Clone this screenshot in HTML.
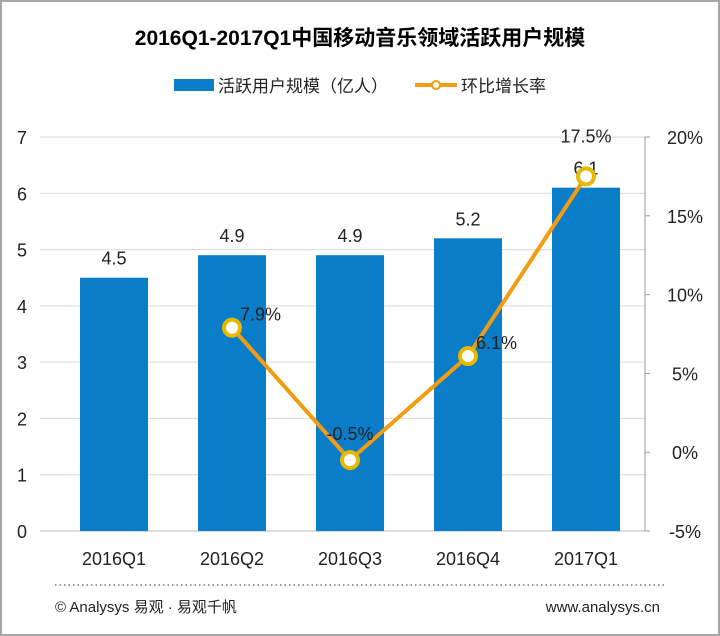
<!DOCTYPE html>
<html><head><meta charset="utf-8"><style>
body{margin:0;background:#fff;}
#wrap{position:relative;width:716px;height:632px;border:2px solid #a6a6a6;overflow:hidden;font-family:"Liberation Sans","Noto Sans CJK SC",sans-serif;}
svg text{font-family:"Liberation Sans","Noto Sans CJK SC",sans-serif;}
</style></head><body>
<div id="wrap">
<svg id="chart" width="716" height="632" viewBox="2 2 716 632">
<text x="360" y="45" text-anchor="middle" font-size="21" font-weight="bold" fill="#000">2016Q1-2017Q1中国移动音乐领域活跃用户规模</text>
<g>
<rect x="174" y="79" width="40" height="12" fill="#0a7dc9"/>
<text x="218" y="92" font-size="17" fill="#222">活跃用户规模（亿人）</text>
<line x1="415" y1="85" x2="457" y2="85" stroke="#f39c12" stroke-width="4"/>
<circle cx="436" cy="85" r="4" fill="#fff" stroke="#f39c12" stroke-width="2"/>
<text x="461" y="92" font-size="17" fill="#222">环比增长率</text>
</g>
<g id="grid"></g><g id="bars"></g><g id="line"></g><g id="axes"></g>
<line x1="55" y1="585" x2="665" y2="585" stroke="#777" stroke-width="1.5" stroke-dasharray="1.5,3"/>
<text x="55" y="612" font-size="15" fill="#222">© Analysys 易观 · 易观千帆</text>
<text x="660" y="612" font-size="15" fill="#222" text-anchor="end">www.analysys.cn</text>
</svg>
</div>
<script>
const categories=["2016Q1","2016Q2","2016Q3","2016Q4","2017Q1"];
const users=[4.5,4.9,4.9,5.2,6.1];
const growth=[null,7.9,-0.5,6.1,17.5];
const leftTicks=[0,1,2,3,4,5,6,7];
const rightTicks=[-5,0,5,10,15,20];
const NS="http://www.w3.org/2000/svg";
const X0=55,X1=645,Y0=531,Y1=137;
const yL=v=>Y0-(v-0)/(7-0)*(Y0-Y1);
const yR=v=>Y0-(v+5)/25*(Y0-Y1);
const band=(X1-X0)/categories.length;
const xC=i=>X0+band*(i+0.5);
function mk(tag,attrs,parent,txt){const e=document.createElementNS(NS,tag);for(const k in attrs)e.setAttribute(k,attrs[k]);if(txt!=null)e.textContent=txt;document.getElementById(parent).appendChild(e);return e;}
leftTicks.forEach(t=>{
 const g=mk('line',{x1:40,x2:X1,y1:yL(t),y2:yL(t),stroke:t===0?'#bbb':'#d9d9d9','stroke-width':1},'grid');
 
 
 const l=mk('text',{x:22,y:yL(t)+7,'font-size':18,'text-anchor':'middle',fill:'#222'},'axes',String(t));
 
 
});
const ax=mk('line',{x1:X1,x2:X1,y1:Y1,y2:Y0,stroke:'#999','stroke-width':1},'axes');


rightTicks.forEach(t=>{
 const tk=mk('line',{x1:X1,x2:X1+5,y1:yR(t),y2:yR(t),stroke:'#999'},'axes');
 
 
 const l=mk('text',{x:X1+40,y:yR(t)+7,'font-size':18,'text-anchor':'middle',fill:'#222'},'axes',t+'%');
 
 
});
categories.forEach((c,i)=>{
 const b=mk('rect',{x:xC(i)-34,y:yL(users[i]),width:68,height:Y0-yL(users[i]),fill:'#0a7dc9'},'bars');
 
 
 const v=mk('text',{x:xC(i),y:yL(users[i])-13,'font-size':18,'text-anchor':'middle',fill:'#222'},'bars',users[i].toFixed(1));
 
 
 const cl=mk('text',{x:xC(i),y:565,'font-size':18,'text-anchor':'middle',fill:'#222'},'axes',c);
 
 
});
const pts=[];growth.forEach((g,i)=>{if(g!==null)pts.push([xC(i),yR(g),g]);});
const pl=mk('polyline',{points:pts.map(p=>p[0]+','+p[1]).join(' '),fill:'none',stroke:'#f39c12','stroke-width':4},'line');


pts.forEach((p,k)=>{
 const c=mk('circle',{cx:p[0],cy:p[1],r:8,fill:'#fff',stroke:'#e6b800','stroke-width':4},'line');
 
 
 const last=k===pts.length-1;
 const t=mk('text',{x:last?p[0]:p[0]+8,y:last?p[1]-34:p[1]-7,'font-size':18,'text-anchor':last?'middle':'start',fill:'#222'},'line',p[2]+'%');
 if(!last&&p[2]<0){t.setAttribute('x',p[0]);t.setAttribute('text-anchor','middle');t.setAttribute('y',p[1]-20);}
 
 
});
</script>
</body></html>
